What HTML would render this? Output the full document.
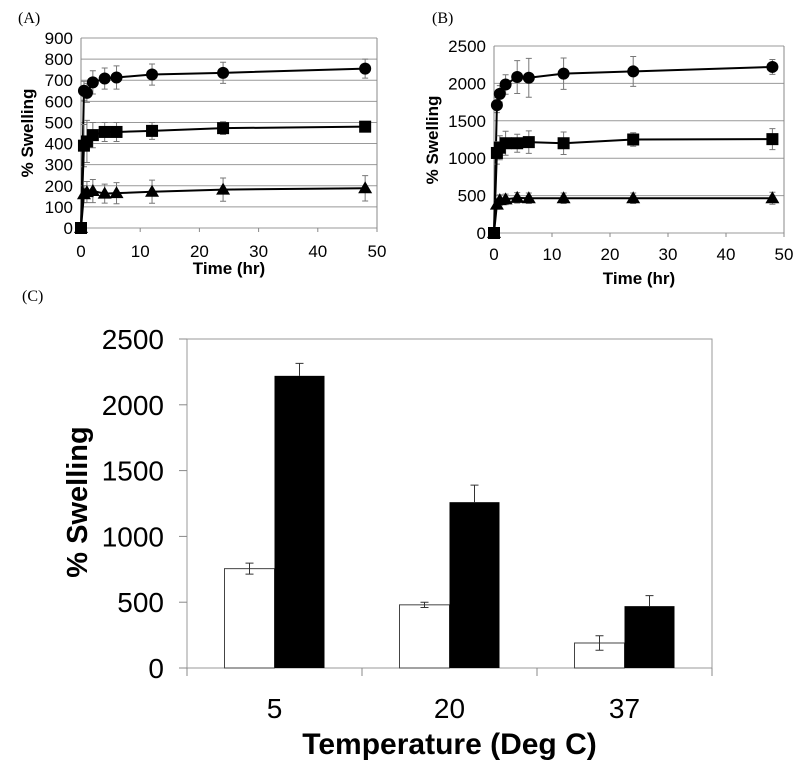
<!DOCTYPE html>
<html><head><meta charset="utf-8"><style>
body{margin:0;background:#fff;width:800px;height:762px;overflow:hidden}
text{font-family:"Liberation Sans",Arial,sans-serif}
</style></head><body>
<svg id="fig" width="800" height="762" viewBox="0 0 800 762" xmlns="http://www.w3.org/2000/svg">
<text x="18" y="23" style="font-family:'Liberation Serif',serif" font-size="16">(A)</text>
<text x="432" y="23" style="font-family:'Liberation Serif',serif" font-size="16">(B)</text>
<text x="22" y="301" style="font-family:'Liberation Serif',serif" font-size="16">(C)</text>
<g id="pa"></g>
<g id="pb"></g>
<g id="pc"></g>
</svg>
<script>
const times = [0, 0.5, 1, 2, 4, 6, 12, 24, 48];
const aCircle = [0, 650, 640, 690, 708, 713, 727, 735, 755];
const aCircleErr = [0, 45, 45, 55, 50, 55, 50, 50, 45];
const aSquare = [0, 390, 410, 440, 455, 455, 460, 473, 480];
const aSquareErr = [0, 100, 100, 60, 45, 45, 40, 30, 20];
const aTriangle = [0, 160, 170, 175, 163, 165, 172, 182, 188];
const aTriangleErr = [0, 40, 50, 55, 45, 50, 55, 55, 60];
const bCircle = [0, 1710, 1860, 1985, 2085, 2075, 2130, 2160, 2220];
const bCircleErr = [0, 100, 110, 130, 220, 260, 210, 200, 100];
const bSquare = [0, 1070, 1140, 1200, 1200, 1215, 1200, 1250, 1255];
const bSquareErr = [0, 150, 160, 160, 120, 150, 150, 90, 140];
const bTriangle = [0, 380, 440, 450, 470, 465, 465, 465, 465];
const bTriangleErr = [0, 60, 70, 70, 70, 70, 70, 70, 80];
const xTicks = [0, 10, 20, 30, 40, 50];
const aYTicks = [0, 100, 200, 300, 400, 500, 600, 700, 800, 900];
const bYTicks = [0, 500, 1000, 1500, 2000, 2500];
const cCategories = ["5", "20", "37"];
const cWhite = [755, 480, 190];
const cWhiteErr = [42, 20, 55];
const cBlack = [2220, 1260, 470];
const cBlackErr = [95, 130, 80];
const cYTicks = [0, 500, 1000, 1500, 2000, 2500];

const NS = "http://www.w3.org/2000/svg";
function mk(parent, tag, attrs) {
  const e = document.createElementNS(NS, tag);
  for (const k in attrs) e.setAttribute(k, attrs[k]);
  parent.appendChild(e);
  return e;
}

function linePanel(g, L, R, T, B, ymax, yTicks, series, ylabX, ylabY, xtickY, xlabY) {
  const sx = v => L + (v / 50) * (R - L);
  const sy = v => B - (v / ymax) * (B - T);
  yTicks.forEach(t => {
    const gl = mk(g, 'line', {x1: L, x2: R, y1: sy(t), y2: sy(t), stroke: '#999', 'stroke-width': 1});
    
    
    const tl = mk(g, 'text', {x: L - 8, y: sy(t) + 6, 'text-anchor': 'end', 'font-size': 17});
    tl.textContent = t;
    
    
  });
  const ax = mk(g, 'line', {x1: L, x2: L, y1: T, y2: B, stroke: '#888'});
  
  
  const ar = mk(g, 'line', {x1: R, x2: R, y1: T, y2: B, stroke: '#888'});
  
  
  xTicks.forEach(t => {
    const tk = mk(g, 'line', {x1: sx(t), x2: sx(t), y1: B, y2: B + 4, stroke: '#888'});
    
    
    const tl = mk(g, 'text', {x: sx(t), y: xtickY, 'text-anchor': 'middle', 'font-size': 17});
    tl.textContent = t;
    
    
  });
  const yt = mk(g, 'text', {x: 0, y: 0, transform: `translate(${ylabX},${ylabY}) rotate(-90)`, 'text-anchor': 'middle', 'font-size': 17, 'font-weight': 'bold'});
  yt.textContent = '% Swelling';
  
  
  const xt = mk(g, 'text', {x: (L + R) / 2, y: xlabY, 'text-anchor': 'middle', 'font-size': 17, 'font-weight': 'bold'});
  xt.textContent = 'Time (hr)';
  
  
  series.forEach(s => {
    s.vals.forEach((v, i) => {
      if (!s.err[i]) return;
      const x = sx(times[i]);
      const eb = mk(g, 'path', {d: `M${x},${sy(v - s.err[i])}V${sy(v + s.err[i])}M${x - 3},${sy(v - s.err[i])}h6M${x - 3},${sy(v + s.err[i])}h6`, stroke: '#777', fill: 'none', 'stroke-width': 1});
      
      
    });
    const pts = s.vals.map((v, i) => sx(times[i]) + ',' + sy(v)).join(' ');
    const pl = mk(g, 'polyline', {points: pts, fill: 'none', stroke: '#000', 'stroke-width': 2});
    
    
  });
  series.forEach(s => {
    s.vals.forEach((v, i) => {
      const x = sx(times[i]), y = sy(v);
      let m;
      if (s.shape === 'circle') m = mk(g, 'circle', {cx: x, cy: y, r: 6, fill: '#000'});
      else if (s.shape === 'square') m = mk(g, 'rect', {x: x - 6, y: y - 6, width: 12, height: 12, fill: '#000'});
      else m = mk(g, 'path', {d: `M${x},${y - 7}L${x + 7},${y + 5}L${x - 7},${y + 5}Z`, fill: '#000'});
      
      
    });
  });
}

linePanel(document.getElementById('pa'), 81, 377, 38, 228, 900, aYTicks, [
  {name: 'circle-series', shape: 'circle', vals: aCircle, err: aCircleErr},
  {name: 'triangle-series', shape: 'triangle', vals: aTriangle, err: aTriangleErr},
  {name: 'square-series', shape: 'square', vals: aSquare, err: aSquareErr}
], 33, 133, 257, 274);
linePanel(document.getElementById('pb'), 494, 784, 46, 233, 2500, bYTicks, [
  {name: 'circle-series', shape: 'circle', vals: bCircle, err: bCircleErr},
  {name: 'triangle-series', shape: 'triangle', vals: bTriangle, err: bTriangleErr},
  {name: 'square-series', shape: 'square', vals: bSquare, err: bSquareErr}
], 438, 140, 260, 284);

(function () {
  const g = document.getElementById('pc');
  const L = 187, R = 712, T = 339, B = 668, ymax = 2500;
  const sy = v => B - (v / ymax) * (B - T);
  const cw = (R - L) / cCategories.length;
  const fr = mk(g, 'rect', {x: L, y: T, width: R - L, height: B - T, fill: 'none', stroke: '#999'});
  
  
  cYTicks.forEach(t => {
    const tk = mk(g, 'line', {x1: L - 8, x2: L, y1: sy(t), y2: sy(t), stroke: '#888'});
    
    
    const tl = mk(g, 'text', {x: 164, y: sy(t) + 10, 'text-anchor': 'end', 'font-size': 28});
    tl.textContent = t;
    
    
  });
  for (let i = 0; i <= cCategories.length; i++) {
    const tk = mk(g, 'line', {x1: L + i * cw, x2: L + i * cw, y1: B, y2: B + 8, stroke: '#888'});
    
    
  }
  cCategories.forEach((c, i) => {
    const cx = L + (i + 0.5) * cw;
    const bw = 50;
    const wv = cWhite[i], bv = cBlack[i];
    const wr = mk(g, 'rect', {x: cx - bw, y: sy(wv), width: bw, height: B - sy(wv), fill: '#fff', stroke: '#444', 'stroke-width': 1});
    
    
    const br = mk(g, 'rect', {x: cx, y: sy(bv), width: bw, height: B - sy(bv), fill: '#000'});
    
    
    const ex = cx - bw / 2;
    const e1 = mk(g, 'path', {d: `M${ex},${sy(wv - cWhiteErr[i])}V${sy(wv + cWhiteErr[i])}M${ex - 4},${sy(wv - cWhiteErr[i])}h8M${ex - 4},${sy(wv + cWhiteErr[i])}h8`, stroke: '#333', fill: 'none'});
    
    
    const bx = cx + bw / 2;
    const e2 = mk(g, 'path', {d: `M${bx},${sy(bv)}V${sy(bv + cBlackErr[i])}M${bx - 4},${sy(bv + cBlackErr[i])}h8`, stroke: '#333', fill: 'none'});
    
    
    const tl = mk(g, 'text', {x: cx, y: 718, 'text-anchor': 'middle', 'font-size': 28});
    tl.textContent = c;
    
    
  });
  const yt = mk(g, 'text', {x: 0, y: 0, transform: `translate(87,502) rotate(-90)`, 'text-anchor': 'middle', 'font-size': 29, 'font-weight': 'bold'});
  yt.textContent = '% Swelling';
  
  
  const xt = mk(g, 'text', {x: (L + R) / 2, y: 754, 'text-anchor': 'middle', 'font-size': 30, 'font-weight': 'bold'});
  xt.textContent = 'Temperature (Deg C)';
  
  
})();
</script>
</body></html>
